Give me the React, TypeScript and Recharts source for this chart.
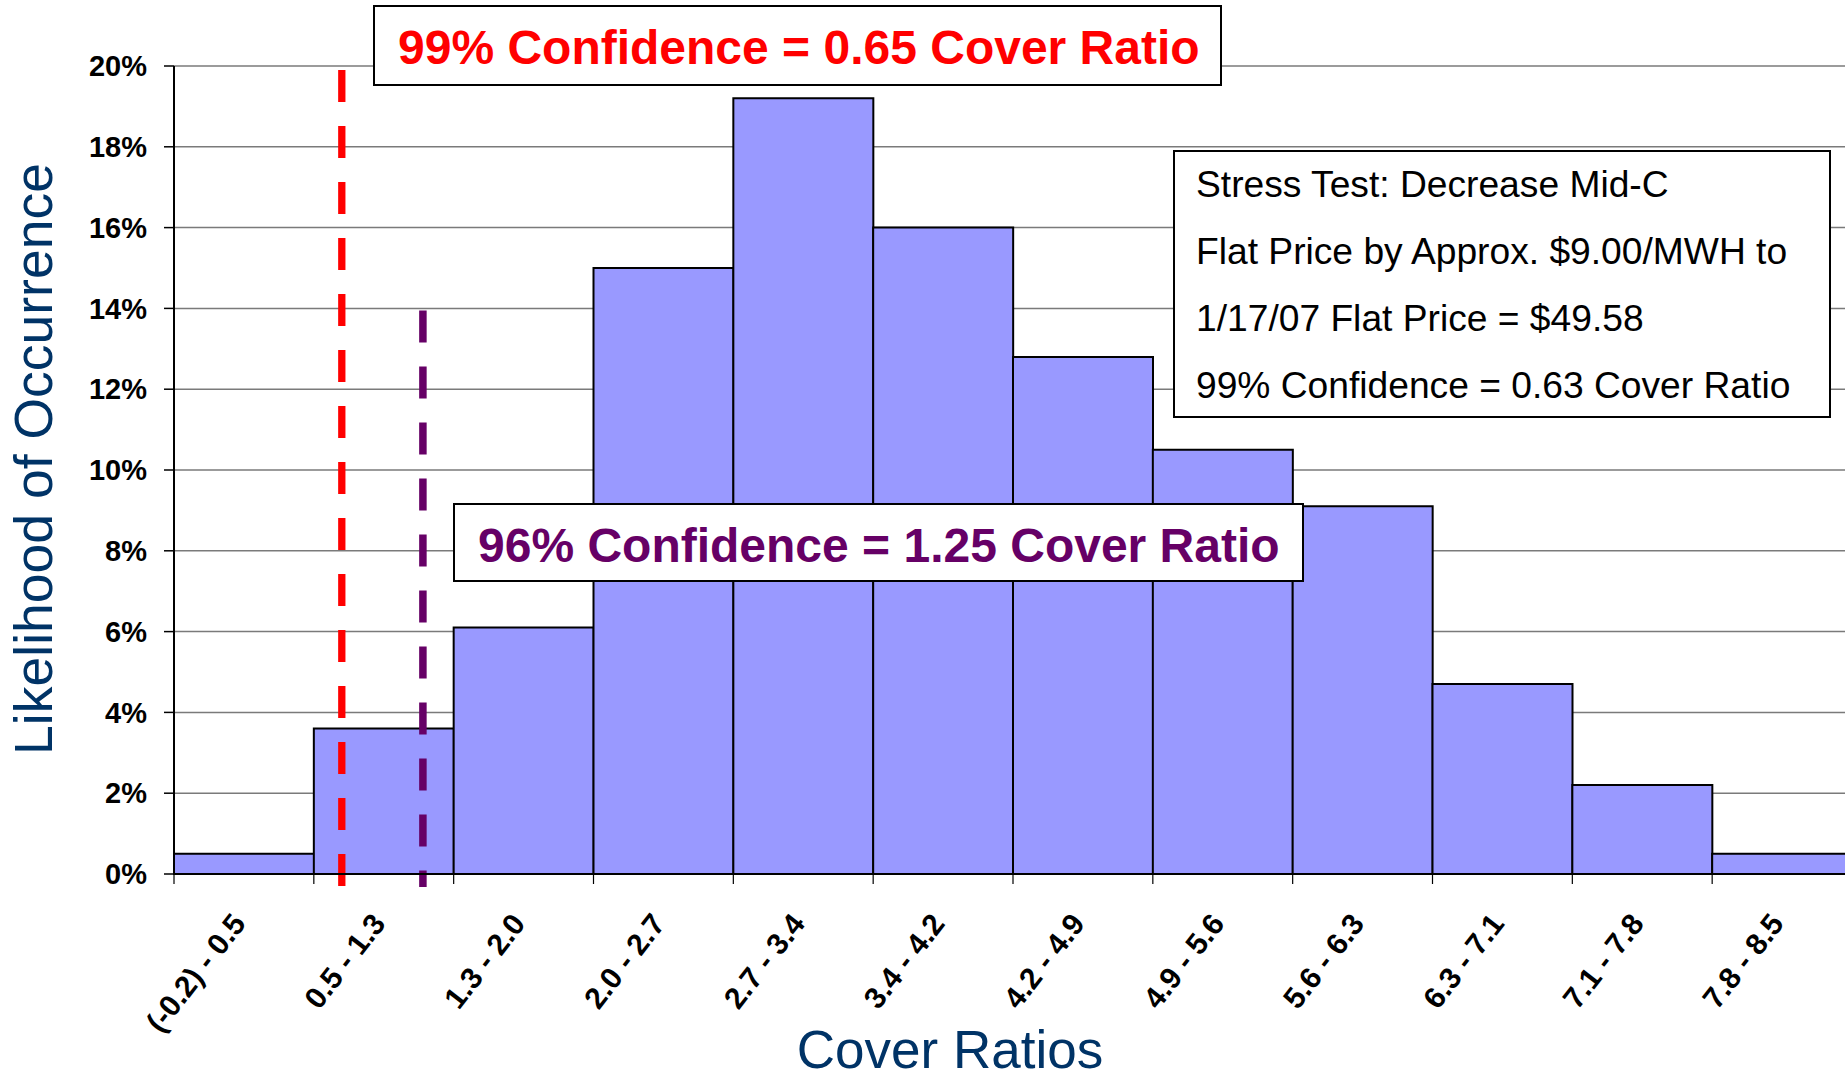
import React from 'react';
import { ComposedChart, Bar, XAxis, YAxis, CartesianGrid, ReferenceLine } from 'recharts';

// ---------- data ----------
const categories = [
  '(-0.2) - 0.5', '0.5 - 1.3', '1.3 - 2.0', '2.0 - 2.7', '2.7 - 3.4', '3.4 - 4.2',
  '4.2 - 4.9', '4.9 - 5.6', '5.6 - 6.3', '6.3 - 7.1', '7.1 - 7.8', '7.8 - 8.5',
];
const likelihood = [0.5, 3.6, 6.1, 15.0, 19.2, 16.0, 12.8, 10.5, 9.1, 4.7, 2.2, 0.5];
const yTicks = [0, 2, 4, 6, 8, 10, 12, 14, 16, 18, 20];

// confidence markers, positions in bin units along the category axis
const conf99Pos = 1.2;
const conf96Pos = 1.78;
const conf99Top = 19.9;
const conf96Top = 13.95;
const markerBottom = -0.32;

const annotation99 = '99% Confidence = 0.65 Cover Ratio';
const annotation96 = '96% Confidence = 1.25 Cover Ratio';
const stressLines = [
  'Stress Test: Decrease Mid-C',
  'Flat Price by Approx. $9.00/MWH to',
  '1/17/07 Flat Price = $49.58',
  '99% Confidence = 0.63 Cover Ratio',
];

const yTitle = 'Likelihood of Occurrence';
const xTitle = 'Cover Ratios';

// ---------- layout ----------
const FONT = '"Liberation Sans", Arial, Helvetica, sans-serif';
const CHART_W = 1860;
const CHART_H = 1080;
const MARGIN = { top: 66, right: 8, bottom: 56, left: 0 };
const Y_AXIS_W = 174;
const X_AXIS_H = 150;
const PLOT_W = CHART_W - MARGIN.left - MARGIN.right - Y_AXIS_W;
const HALF_BAND = PLOT_W / categories.length / 2;

const data = categories.map((c, i) => ({ range: c, binIndex: i, value: likelihood[i] }));

const XTick = (props: any) => {
  const { x, y, payload } = props;
  const half = payload && typeof payload.offset === 'number' && payload.offset > 0 ? payload.offset : HALF_BAND;
  const tx = x + 3;
  const ty = y + 40;
  return (
    <g>
      <line x1={x - half} x2={x - half} y1={y - 10} y2={y} stroke="#000" strokeWidth={1.2} />
      <text
        x={tx}
        y={ty}
        textAnchor="end"
        transform={`rotate(-52, ${tx}, ${ty})`}
        fontFamily={FONT}
        fontWeight="bold"
        fontSize={30}
        fill="#000"
      >
        {payload.value}
      </text>
    </g>
  );
};

const YTitle = (props: any) => {
  const vb = props && props.viewBox ? props.viewBox : { x: 0, y: 66 };
  const x = (vb.x ?? 0) + 52;
  const y = (vb.y ?? 66) + 393;
  return (
    <text x={x} y={y} textAnchor="middle" transform={`rotate(-90, ${x}, ${y})`}
      fontFamily={FONT} fontSize={53.5} fill="#003366">
      {yTitle}
    </text>
  );
};

const XTitle = (props: any) => {
  const vb = props && props.viewBox ? props.viewBox : { x: 174, y: 874 };
  const x = (vb.x ?? 174) + 776;
  const y = (vb.y ?? 874) + 194;
  return (
    <text x={x} y={y} textAnchor="middle" fontFamily={FONT} fontSize={53} fill="#003366">
      {xTitle}
    </text>
  );
};

const Annotations = () => (
  <svg width={1845} height={1080} style={{ position: 'absolute', left: 0, top: 0, pointerEvents: 'none' }}>
    <rect x={374} y={6} width={847} height={79} fill="#fff" stroke="#000" strokeWidth={2} />
    <text x={398} y={64} fontFamily={FONT} fontWeight="bold" fontSize={48} fill="#FF0000">{annotation99}</text>

    <rect x={454} y={504} width={849} height={77} fill="#fff" stroke="#000" strokeWidth={2} />
    <text x={478} y={562} fontFamily={FONT} fontWeight="bold" fontSize={48} fill="#660066">{annotation96}</text>

    <rect x={1174} y={151} width={656} height={266} fill="#fff" stroke="#000" strokeWidth={2} />
    {stressLines.map((t, i) => (
      <text key={i} x={1196} y={197 + i * 67} fontFamily={FONT} fontSize={37.2} fill="#000">{t}</text>
    ))}
  </svg>
);

export default function App() {
  return (
    <div style={{ position: 'fixed', left: 0, top: 0, width: 1845, height: 1080, overflow: 'hidden', background: '#fff' }}>
      <ComposedChart
        width={CHART_W}
        height={CHART_H}
        data={data}
        margin={MARGIN}
        barCategoryGap={0}
        barGap={0}
        style={{ fontFamily: FONT }}
      >
        <CartesianGrid vertical={false} stroke="#7a7a7a" strokeWidth={1.5} xAxisId="cat" />
        <XAxis
          xAxisId="cat"
          dataKey="range"
          type="category"
          height={X_AXIS_H}
          interval={0}
          tickLine={false}
          tickSize={10}
          tickMargin={0}
          axisLine={{ stroke: '#000', strokeWidth: 2 }}
          tick={<XTick />}
          label={XTitle}
        />
        <XAxis
          xAxisId="num"
          dataKey="binIndex"
          type="number"
          domain={[0, categories.length]}
          hide
          allowDataOverflow
        />
        <YAxis
          domain={[0, 20]}
          ticks={yTicks}
          interval={0}
          width={Y_AXIS_W}
          tickFormatter={(v: number) => `${v}%`}
          tickSize={10}
          tickMargin={17}
          tickLine={{ stroke: '#000', strokeWidth: 1.5 }}
          axisLine={{ stroke: '#000', strokeWidth: 2 }}
          tick={{ fontFamily: FONT, fontWeight: 'bold', fontSize: 29, fill: '#000' }}
          label={YTitle}
        />
        <Bar
          xAxisId="cat"
          dataKey="value"
          fill="#9999FF"
          stroke="#000"
          strokeWidth={2}
          isAnimationActive={false}
        />
        <ReferenceLine
          xAxisId="num"
          segment={[{ x: conf99Pos, y: conf99Top }, { x: conf99Pos, y: markerBottom }]}
          stroke="#FF0000"
          strokeWidth={7.3}
          strokeDasharray="32 24"
          ifOverflow="visible"
        />
        <ReferenceLine
          xAxisId="num"
          segment={[{ x: conf96Pos, y: conf96Top }, { x: conf96Pos, y: markerBottom }]}
          stroke="#660066"
          strokeWidth={7.5}
          strokeDasharray="32 24"
          ifOverflow="visible"
        />
      </ComposedChart>
      <Annotations />
    </div>
  );
}
